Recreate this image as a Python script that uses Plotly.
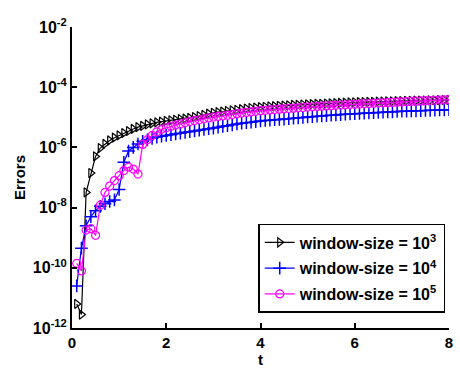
import plotly.graph_objects as go

# time grid
t = [round(0.1 * k, 1) for k in range(1, 81)]

# errors for window-size = 10^3
err_ws3 = [
    6.3e-12, 2.8e-12, 3.2e-8, 1.4e-7, 5.0e-7, 9.5e-7, 1.3e-6, 1.7e-6, 2.1e-6, 2.5e-6,
    3.0e-6, 3.5e-6, 4.1e-6, 4.7e-6, 5.2e-6, 5.8e-6, 6.3e-6, 6.8e-6, 7.2e-6, 7.6e-6,
    7.9e-6, 8.3e-6, 8.7e-6, 9.1e-6, 9.5e-6, 1.02e-5, 1.10e-5, 1.20e-5, 1.32e-5, 1.41e-5,
    1.48e-5, 1.55e-5, 1.62e-5, 1.70e-5, 1.78e-5, 1.86e-5, 1.95e-5, 2.04e-5, 2.11e-5, 2.19e-5,
    2.24e-5, 2.29e-5, 2.34e-5, 2.40e-5, 2.45e-5, 2.51e-5, 2.57e-5, 2.60e-5, 2.66e-5, 2.69e-5,
    2.73e-5, 2.78e-5, 2.82e-5, 2.87e-5, 2.92e-5, 2.96e-5, 3.01e-5, 3.06e-5, 3.11e-5, 3.16e-5,
    3.19e-5, 3.22e-5, 3.25e-5, 3.28e-5, 3.31e-5, 3.34e-5, 3.37e-5, 3.40e-5, 3.43e-5, 3.47e-5,
    3.50e-5, 3.53e-5, 3.56e-5, 3.59e-5, 3.62e-5, 3.65e-5, 3.68e-5, 3.72e-5, 3.76e-5, 3.80e-5,
]

# errors for window-size = 10^4
err_ws4 = [
    2.5e-11, 4.5e-10, 2.5e-9, 5.0e-9, 7.9e-9, 1.1e-8, 1.35e-8, 1.6e-8, 1.8e-8, 4.0e-8,
    3.2e-7, 7.6e-7, 1.0e-6, 1.3e-6, 1.6e-6, 1.8e-6, 2.0e-6, 2.2e-6, 2.35e-6, 2.5e-6,
    2.63e-6, 2.82e-6, 2.95e-6, 3.16e-6, 3.31e-6, 3.5e-6, 3.7e-6, 3.94e-6, 4.17e-6, 4.37e-6,
    4.68e-6, 5.0e-6, 5.25e-6, 5.62e-6, 6.03e-6, 6.31e-6, 6.6e-6, 6.9e-6, 7.2e-6, 7.6e-6,
    7.8e-6, 8.0e-6, 8.3e-6, 8.5e-6, 8.7e-6, 9.0e-6, 9.3e-6, 9.6e-6, 9.9e-6, 1.02e-5,
    1.05e-5, 1.08e-5, 1.11e-5, 1.14e-5, 1.17e-5, 1.20e-5, 1.23e-5, 1.26e-5, 1.29e-5, 1.32e-5,
    1.34e-5, 1.37e-5, 1.39e-5, 1.42e-5, 1.44e-5, 1.47e-5, 1.50e-5, 1.52e-5, 1.55e-5, 1.58e-5,
    1.60e-5, 1.62e-5, 1.64e-5, 1.66e-5, 1.68e-5, 1.70e-5, 1.72e-5, 1.74e-5, 1.76e-5, 1.78e-5,
]

# errors for window-size = 10^5
err_ws5 = [
    1.4e-10, 7.9e-11, 1.8e-9, 2.0e-9, 1.2e-9, 1.2e-8, 3.2e-8, 5.2e-8, 7.9e-8, 1.15e-7,
    1.7e-7, 2.2e-7, 1.9e-7, 1.3e-7, 1.26e-6, 1.8e-6, 2.5e-6, 3.3e-6, 4.0e-6, 4.5e-6,
    5.0e-6, 5.5e-6, 6.0e-6, 6.6e-6, 7.2e-6, 7.8e-6, 8.3e-6, 8.9e-6, 9.5e-6, 1.02e-5,
    1.07e-5, 1.12e-5, 1.17e-5, 1.23e-5, 1.32e-5, 1.38e-5, 1.45e-5, 1.51e-5, 1.58e-5, 1.66e-5,
    1.71e-5, 1.76e-5, 1.81e-5, 1.86e-5, 1.91e-5, 1.96e-5, 2.01e-5, 2.06e-5, 2.12e-5, 2.19e-5,
    2.24e-5, 2.29e-5, 2.34e-5, 2.39e-5, 2.44e-5, 2.49e-5, 2.54e-5, 2.59e-5, 2.64e-5, 2.69e-5,
    2.74e-5, 2.80e-5, 2.85e-5, 2.91e-5, 2.96e-5, 3.02e-5, 3.07e-5, 3.13e-5, 3.18e-5, 3.24e-5,
    3.30e-5, 3.36e-5, 3.43e-5, 3.49e-5, 3.56e-5, 3.62e-5, 3.69e-5, 3.75e-5, 3.82e-5, 3.89e-5,
]

series_names = [
    "<b>window-size = 10<sup>3</sup></b>",
    "<b>window-size = 10<sup>4</sup></b>",
    "<b>window-size = 10<sup>5</sup></b>",
]

y_tick_vals = [1e-12, 1e-10, 1e-8, 1e-6, 1e-4, 1e-2]
y_tick_text = ["<b>10<sup>-12</sup></b>", "<b>10<sup>-10</sup></b>", "<b>10<sup>-8</sup></b>",
               "<b>10<sup>-6</sup></b>", "<b>10<sup>-4</sup></b>", "<b>10<sup>-2</sup></b>"]
x_tick_vals = [0, 2, 4, 6, 8]

FONT = "Liberation Sans, Arial, Helvetica, sans-serif"

fig = go.Figure()
fig.add_trace(go.Scatter(
    x=t, y=err_ws3, mode="lines+markers", name=series_names[0], legendgroup="a",
    line=dict(color="black", width=1.2),
    marker=dict(symbol="triangle-right-open", size=8, color="black", line=dict(width=1.2)),
))
fig.add_trace(go.Scatter(
    x=t, y=err_ws4, mode="lines+markers", name=series_names[1], legendgroup="b",
    line=dict(color="#0000ff", width=1.2),
    marker=dict(symbol="cross-thin-open", size=9, color="#0000ff", line=dict(width=1.5, color="#0000ff")),
))
fig.add_trace(go.Scatter(
    x=t, y=err_ws5, mode="lines+markers", name=series_names[2], legendgroup="c",
    line=dict(color="#ff00ff", width=1.2),
    marker=dict(symbol="circle-open", size=8, color="#ff00ff", line=dict(width=1.2)),
))

fig.update_layout(
    width=460, height=371,
    margin=dict(l=72, r=7, t=27, b=41),
    paper_bgcolor="white", plot_bgcolor="white",
    font=dict(family=FONT, size=15, color="black"),
    showlegend=True,
    legend=dict(
        x=0.99, y=0.05, xanchor="right", yanchor="bottom",
        bgcolor="white", bordercolor="black", borderwidth=1.5,
        font=dict(family=FONT, size=16, color="black"),
        tracegroupgap=2, itemwidth=30,
    ),
    xaxis=dict(
        range=[0, 8], tickvals=x_tick_vals,
        ticktext=[f"<b>{v}</b>" for v in x_tick_vals],
        tickfont=dict(size=15),
        ticks="inside", ticklen=5, tickwidth=1.5, tickcolor="black",
        showline=True, linecolor="black", linewidth=2, mirror=False,
        showgrid=False, zeroline=False,
        title=dict(text="<b>t</b>", standoff=2, font=dict(size=15)),
    ),
    yaxis=dict(
        type="log", range=[-12, -2], tickvals=y_tick_vals, ticktext=y_tick_text,
        tickfont=dict(size=16),
        ticks="inside", ticklen=5, tickwidth=1.5, tickcolor="black",
        showline=True, linecolor="black", linewidth=2, mirror=False,
        showgrid=False, zeroline=False,
        title=dict(text="<b>Errors</b>", standoff=4, font=dict(size=15)),
    ),
)

fig.write_html("out.html")
